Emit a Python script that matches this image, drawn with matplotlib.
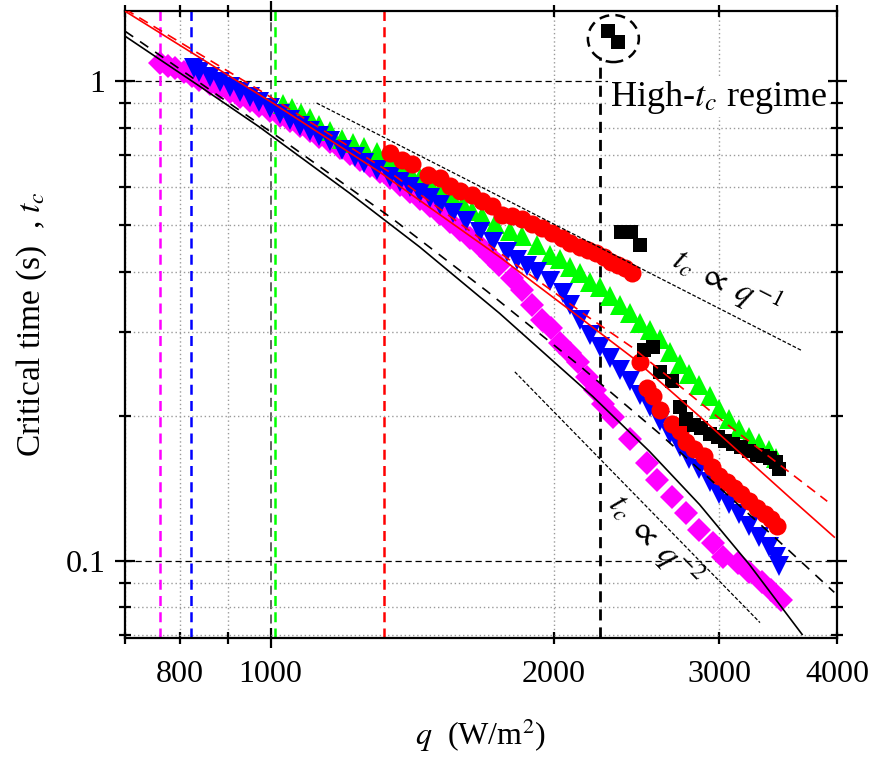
import numpy as np
import matplotlib.pyplot as plt
from matplotlib.patches import Ellipse
from matplotlib.ticker import LogLocator, FixedLocator, FuncFormatter, NullFormatter

plt.rcParams['font.family'] = ['Liberation Serif', 'DejaVu Serif']
plt.rcParams['mathtext.fontset'] = 'stix'

# ---------------------------------------------------------------------------
# data read off the figure : heat flux q (W/m2) and critical time t_c (s)
# ---------------------------------------------------------------------------
q_magenta = [762, 777, 792, 808, 824, 840, 861, 883, 905, 927, 950, 973, 998, 1022, 1048,
             1074, 1100, 1127, 1155, 1184, 1213, 1243, 1274, 1306, 1338, 1371, 1405, 1440,
             1476, 1512, 1550, 1588, 1628, 1668, 1709, 1751, 1804, 1848, 1894, 1941, 1985,
             2029, 2079, 2120, 2167, 2210, 2254, 2310, 2408, 2510, 2572, 2668, 2761, 2857,
             2955, 3030, 3136, 3229, 3333, 3407, 3490]
t_magenta = [1.090, 1.074, 1.064, 1.044, 1.024, 1.005, 0.986, 0.967, 0.949, 0.926, 0.909,
             0.887, 0.866, 0.845, 0.825, 0.806, 0.787, 0.764, 0.746, 0.725, 0.705, 0.684,
             0.665, 0.646, 0.628, 0.607, 0.587, 0.568, 0.549, 0.528, 0.508, 0.489, 0.471,
             0.453, 0.432, 0.414, 0.389, 0.367, 0.341, 0.318, 0.306, 0.285, 0.271, 0.259,
             0.242, 0.227, 0.212, 0.199, 0.179, 0.160, 0.147, 0.136, 0.126, 0.116, 0.109,
             0.102, 0.0990, 0.0946, 0.0903, 0.0869, 0.0829]

q_blue = [828, 840, 861, 883, 905, 927, 950, 973, 998, 1022, 1048, 1074, 1100, 1127, 1155,
          1192, 1228, 1258, 1297, 1338, 1371, 1405, 1440, 1476, 1512, 1561, 1612, 1668, 1723,
          1782, 1826, 1871, 1918, 1980, 2044, 2079, 2130, 2183, 2237, 2293, 2350, 2408, 2467,
          2528, 2591, 2655, 2721, 2788, 2857, 2928, 3000, 3074, 3151, 3229, 3309, 3390, 3449,
          3467]
t_blue = [1.064, 1.044, 1.019, 0.995, 0.972, 0.949, 0.926, 0.904, 0.879, 0.854, 0.829, 0.806,
          0.787, 0.768, 0.750, 0.718, 0.695, 0.675, 0.652, 0.631, 0.616, 0.601, 0.584, 0.570,
          0.552, 0.531, 0.511, 0.485, 0.462, 0.440, 0.424, 0.412, 0.400, 0.383, 0.362, 0.341,
          0.318, 0.296, 0.279, 0.265, 0.250, 0.237, 0.222, 0.209, 0.196, 0.184, 0.173, 0.163,
          0.155, 0.146, 0.138, 0.131, 0.125, 0.118, 0.112, 0.107, 0.102, 0.0974]

q_green = [1030, 1053, 1076, 1100, 1127, 1155, 1192, 1222, 1258, 1297, 1338, 1371, 1405, 1440,
           1476, 1512, 1558, 1600, 1636, 1676, 1733, 1795, 1848, 1918, 1980, 2029, 2079, 2130,
           2183, 2237, 2293, 2350, 2408, 2467, 2528, 2591, 2655, 2721, 2788, 2857, 2928, 3000,
           3074, 3151, 3229, 3309, 3390, 3449]
t_green = [0.896, 0.879, 0.858, 0.837, 0.810, 0.787, 0.757, 0.743, 0.729, 0.711, 0.684, 0.668,
           0.646, 0.628, 0.610, 0.593, 0.573, 0.554, 0.536, 0.523, 0.504, 0.487, 0.476, 0.455,
           0.434, 0.426, 0.410, 0.398, 0.381, 0.372, 0.356, 0.341, 0.329, 0.313, 0.302, 0.290,
           0.272, 0.257, 0.245, 0.232, 0.220, 0.207, 0.197, 0.188, 0.181, 0.176, 0.170, 0.164]

q_red = [1338, 1378, 1412, 1469, 1512, 1550, 1588, 1636, 1676, 1718, 1760, 1804, 1848, 1894,
         1941, 1990, 2039, 2079, 2130, 2172, 2220, 2259, 2299, 2339, 2379, 2420,
         2467, 2510, 2547, 2591, 2668, 2721, 2767, 2822, 2892, 2943, 3000, 3059, 3112, 3166,
         3229, 3293, 3350, 3407, 3457]
t_red = [0.708, 0.684, 0.671, 0.637, 0.628, 0.604, 0.590, 0.579, 0.562, 0.549, 0.526, 0.523,
         0.516, 0.504, 0.494, 0.482, 0.471, 0.460, 0.451, 0.444, 0.438, 0.430, 0.420, 0.414,
         0.408, 0.398,
         0.259, 0.229, 0.220, 0.206, 0.193, 0.186, 0.177, 0.171, 0.165, 0.157, 0.150, 0.146,
         0.142, 0.138, 0.133, 0.129, 0.125, 0.122, 0.118]

q_black = [2282, 2339, 2356, 2414, 2467, 2497, 2547, 2591, 2668, 2721, 2767, 2822, 2870, 2928,
           2986, 3044, 3104, 3166, 3229, 3285, 3341, 3398, 3449, 3474]
t_black = [1.271, 1.206, 0.484, 0.484, 0.455, 0.275, 0.279, 0.248, 0.237, 0.209, 0.197, 0.192,
           0.189, 0.184, 0.181, 0.178, 0.175, 0.173, 0.169, 0.166, 0.165, 0.164, 0.161, 0.155]

# model curves
q_model_solid = [700, 840, 973, 1213, 1440, 1751, 2200, 2528, 2857, 3229, 3673]
t_model_solid = [1.241, 0.976, 0.802, 0.584, 0.451, 0.328, 0.220, 0.169, 0.131, 0.0981, 0.0702]
q_model_dash = [700, 1030, 1348, 1697, 2130, 2591, 3000, 3449, 3974]
t_model_dash = [1.271, 0.753, 0.516, 0.365, 0.255, 0.184, 0.142, 0.111, 0.0859]
q_red_solid = [700, 1005, 1306, 1751, 2147, 2426, 2857, 3585, 3974]
t_red_solid = [1.399, 0.900, 0.646, 0.430, 0.318, 0.265, 0.200, 0.134, 0.112]
q_red_dash = [700, 980, 1338, 1782, 2167, 2426, 3000, 3906]
t_red_dash = [1.413, 0.949, 0.646, 0.428, 0.324, 0.278, 0.198, 0.133]

# guide slopes
q_slope1 = [1119, 3673]
t_slope1 = [0.90, 0.274]
q_slope2 = [1818, 3313]
t_slope2 = [0.2476, 0.0743]

# vertical markers (onset fluxes)
q_vlines = [763, 823, 1010, 1320]
c_vlines = ['#ff00ff', '#0000ff', '#00ff00', '#ff0000']
q_regime = 2239

# ---------------------------------------------------------------------------
fig = plt.figure(figsize=(8.72, 7.57), dpi=100)
ax = fig.add_axes([0.1433, 0.1572, 0.8165, 0.8283])
ax.set_xscale('log')
ax.set_yscale('log')
ax.set_xlim(700, 4000)
ax.set_ylim(0.069, 1.4)

# grid
ax.grid(which='major', axis='y', color='k', ls=(0, (5, 3)), lw=0.9, zorder=0)
ax.grid(which='major', axis='x', color='#555555', ls=(0, (5, 3)), lw=1.3, zorder=0)
ax.grid(which='minor', color='#9a9a9a', ls=(0, (1, 2)), lw=1.0, zorder=0)

for qv, c in zip(q_vlines, c_vlines):
    ax.axvline(qv, color=c, ls=(0, (4, 2.5)), lw=1.8, zorder=2)
ax.plot([q_regime, q_regime], [0.069, 1.122], color='k', ls=(0, (4, 2.5)), lw=2.0, zorder=2)

ms = dict(ls='none', mew=0)
ax.plot(q_magenta, t_magenta, marker='D', ms=12.5, color='#ff00ff', zorder=3, **ms)
ax.plot(q_green, t_green, marker='^', ms=14, color='#00ff00', zorder=3, **ms)
ax.plot(q_blue, t_blue, marker='v', ms=14, color='#0000ff', zorder=3, **ms)
ax.plot(q_red, t_red, marker='o', ms=13, color='#ff0000', zorder=3, **ms)
ax.plot(q_black, t_black, marker='s', ms=10, color='k', zorder=3, **ms)

ax.plot(q_model_solid, t_model_solid, color='k', lw=1.2, zorder=4)
ax.plot(q_model_dash, t_model_dash, color='k', lw=1.2, ls=(0, (6, 5)), zorder=4)
ax.plot(q_red_solid, t_red_solid, color='#ff0000', lw=1.2, zorder=4)
ax.plot(q_red_dash, t_red_dash, color='#ff0000', lw=1.2, ls=(0, (6, 4)), zorder=4)
ax.plot(q_slope1, t_slope1, color='k', lw=0.9, ls=(0, (3, 1.5)), zorder=4)
ax.plot(q_slope2, t_slope2, color='k', lw=0.9, ls=(0, (3, 1.5)), zorder=4)

ax.add_patch(Ellipse((0.686, 0.956), 0.0716, 0.075, transform=ax.transAxes, fill=False,
                     ec='k', lw=1.8, ls=(0, (4, 2.5)), zorder=5, clip_on=False))

ax.text(2293, 0.926, 'High-$t_c$ regime', fontsize=26, ha='left', va='center', zorder=6,
        bbox=dict(fc='white', ec='none', pad=1))
ax.text(3055, 0.379, r'$t_c\ \propto\ q^{-1}$', fontsize=24, rotation=-27,
        ha='center', va='center', zorder=6)
ax.text(2562, 0.110, r'$t_c\ \propto\ q^{-2}$', fontsize=24, rotation=-46,
        ha='center', va='center', zorder=6)

# ticks
ax.xaxis.set_major_locator(FixedLocator([1000]))
ax.xaxis.set_minor_locator(FixedLocator([700, 800, 900, 2000, 3000, 4000]))
ax.xaxis.set_minor_formatter(FuncFormatter(lambda v, p: '%d' % v if v in (800, 2000, 3000, 4000) else ''))
ax.xaxis.set_major_formatter(FuncFormatter(lambda v, p: '%d' % v))
ax.yaxis.set_major_locator(FixedLocator([0.1, 1]))
ax.yaxis.set_minor_locator(LogLocator(base=10, subs=np.arange(2, 10)))
ax.yaxis.set_major_formatter(FuncFormatter(lambda v, p: '%g' % v))
ax.yaxis.set_minor_formatter(NullFormatter())

ax.tick_params(which='both', labelsize=23, width=1.6, top=True, right=True)
ax.tick_params(which='major', axis='x', direction='inout', length=15, pad=8)
ax.tick_params(which='minor', axis='x', direction='inout', length=8, pad=11.5)
ax.tick_params(which='major', axis='y', direction='inout', length=14, pad=7)
ax.tick_params(which='minor', axis='y', direction='inout', length=8, pad=7)
for sp in ax.spines.values():
    sp.set_linewidth(1.6)

ax.set_xlabel('$q$  (W/m$^2$)', fontsize=23, labelpad=20)
ax.set_ylabel('Critical time (s)  , $t_c$', fontsize=24, labelpad=12)

fig.savefig('out.png', dpi=100)
